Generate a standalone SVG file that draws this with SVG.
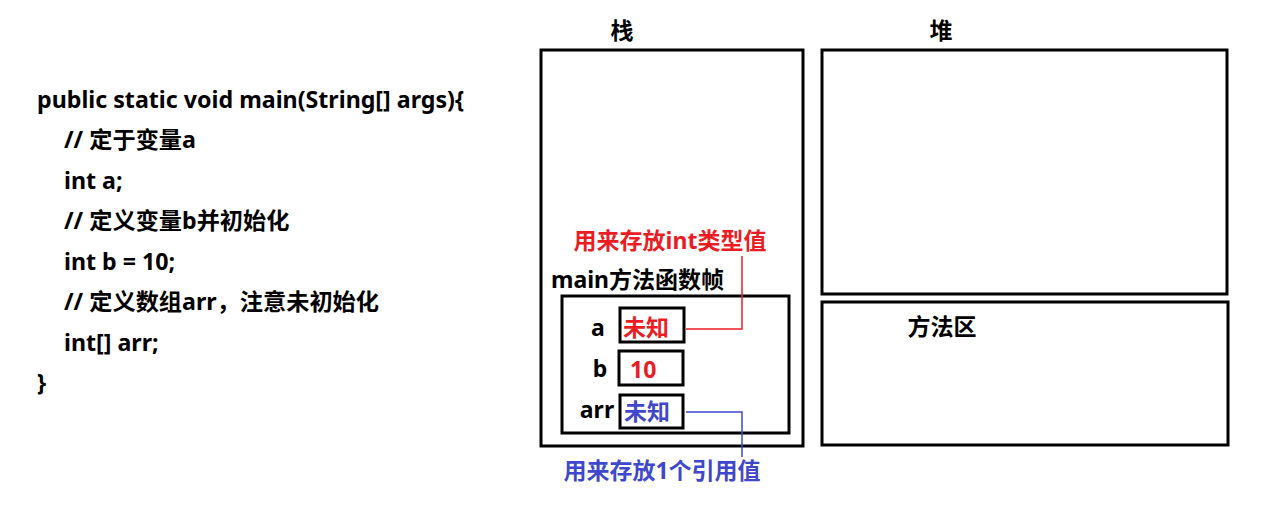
<svg xmlns="http://www.w3.org/2000/svg" width="1279" height="516" viewBox="0 0 1279 516">
<style>
text{font-family:"Noto Sans","Noto Sans CJK SC",sans-serif;font-weight:bold;}
.code{font-size:23.2px;fill:#000;}
.lbl{font-size:23px;fill:#000;}
.box{fill:none;stroke:#000;stroke-width:3;}
.red{fill:#ED1C24;}
.blue{fill:#3F48CC;}
</style>
<rect width="1279" height="516" fill="#fff"/>
<g id="code">
<text class="code" x="37" y="108">public static void main(String[] args){</text>
<text class="code" x="64" y="148">// 定于变量a</text>
<text class="code" x="64" y="189">int a;</text>
<text class="code" x="64" y="229">// 定义变量b并初始化</text>
<text class="code" x="64" y="270">int b = 10;</text>
<text class="code" x="64" y="310">// 定义数组arr，注意未初始化</text>
<text class="code" x="64" y="351">int[] arr;</text>
<text class="code" x="37" y="391">}</text>
</g>
<g id="stack">
<text class="lbl" x="622" y="39" text-anchor="middle">栈</text>
<rect class="box" x="541" y="50" width="262" height="396"/>
</g>
<g id="heap">
<text class="lbl" x="941" y="39" text-anchor="middle">堆</text>
<rect class="box" x="822" y="50" width="405" height="244"/>
</g>
<g id="method-area">
<rect class="box" x="822" y="302" width="406" height="143"/>
<text class="lbl" x="942" y="335" text-anchor="middle">方法区</text>
</g>
<g id="frame">
<rect class="box" x="562" y="296" width="227" height="137"/>
<text class="lbl" x="551" y="288">main方法函数帧</text>
</g>
<g id="cell-a">
<text class="lbl" x="598" y="336" text-anchor="middle">a</text>
<rect class="box" x="620" y="308" width="64" height="34"/>
<text class="lbl red" x="623" y="336">未知</text>
</g>
<g id="cell-b">
<text class="lbl" x="600" y="377" text-anchor="middle">b</text>
<rect class="box" x="619" y="351" width="64" height="34"/>
<text class="lbl red" x="630" y="378">10</text>
</g>
<g id="cell-arr">
<text class="lbl" x="597" y="418" text-anchor="middle">arr</text>
<rect class="box" x="620" y="395" width="63" height="33"/>
<text class="lbl blue" x="624" y="420">未知</text>
</g>
<g id="connectors">
<polyline points="686,329 742,329 742,256" fill="none" stroke="#ED1C24" stroke-width="1.5"/>
<polyline points="686,412 742,412 742,457" fill="none" stroke="#3F48CC" stroke-width="1.5"/>
</g>
<g id="notes">
<text class="lbl red" x="670" y="249" text-anchor="middle">用来存放int类型值</text>
<text class="lbl blue" x="662" y="479" text-anchor="middle">用来存放1个引用值</text>
</g>
</svg>
